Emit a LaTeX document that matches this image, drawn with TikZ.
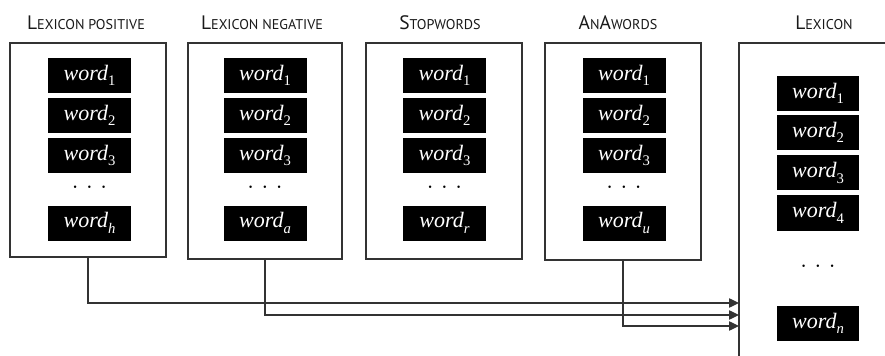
\documentclass[tikz,border=0pt]{standalone}
\usepackage{fontspec}
\setsansfont{PT Sans}
\newfontfamily\wordfont{Liberation Serif}
\usetikzlibrary{arrows.meta}
\newcommand{\BLt}[1]{{\fontsize{14.6}{15}\selectfont #1}}
\newcommand{\SLt}[1]{{\fontsize{10.6}{12}\selectfont #1}}
\newcommand{\wrd}[1]{{\wordfont\itshape word}\raisebox{-0.25em}{\wordfont\fontsize{11}{12}\selectfont #1}}
\newcommand{\wrdi}[1]{{\wordfont\itshape word}\raisebox{-0.25em}{\wordfont\itshape\fontsize{11}{12}\selectfont #1}}
\begin{document}
\begin{tikzpicture}[x=0.75pt,y=-0.75pt,
  frame/.style={draw=black!80,line width=1pt},
  setbox/.style={frame,minimum width=117pt,minimum height=162pt,inner sep=0pt},
  wordbox/.style={fill=black,text=white,minimum width=62.25pt,minimum height=26.25pt,inner sep=0pt,font=\fontsize{16.5}{18}\selectfont},
  title/.style={font=\sffamily,inner sep=0pt,text=black!90},
  dots/.style={inner sep=0pt,font=\fontsize{23}{23}\selectfont},
  conn/.style={draw=black!80,line width=1pt,-{Triangle[length=7.5pt,width=7pt]}}]
\useasboundingbox (0,0) rectangle (885,356);
% titles
\node[title] (t1) at (86,23) {\BLt{L}\SLt{EXICON POSITIVE}};
\node[title] (t2) at (262,23) {\BLt{L}\SLt{EXICON NEGATIVE}};
\node[title] (t3) at (440,23) {\BLt{S}\SLt{TOPWORDS}};
\node[title] (t4) at (618,23) {\BLt{A}\SLt{N}\BLt{A}\SLt{WORDS}};
\node[title] (t5) at (824,23) {\BLt{L}\SLt{EXICON}};
% set boxes
\node[setbox,minimum height=160.5pt] (b1) at (88,150) {};
\node[setbox,minimum width=115.5pt] (b2) at (265,151) {};
\node[setbox] (b3) at (444,151) {};
\node[setbox,minimum height=162.75pt] (b4) at (623,151.5) {};
% words in the four sets
\foreach \cx/\b/\s in {89.5/1/h,265/2/a,444.5/3/r,624/4/u}{
  \node[wordbox] (w\b-1) at (\cx,75.5) {\wrd{1}};
  \node[wordbox] (w\b-2) at (\cx,115.5) {\wrd{2}};
  \node[wordbox] (w\b-3) at (\cx,155.5) {\wrd{3}};
  \node[dots] (d\b) at (\cx,187) {.\hspace{5pt}.\hspace{5pt}.};
  \node[wordbox] (w\b-n) at (\cx,223) {\wrdi{\s}};
}
% lexicon box (open to right and bottom)
\coordinate (lexTR) at (890,43);
\coordinate (lexTL) at (739,43);
\coordinate (lexBL) at (739,360);
\draw[frame] (lexTR) -- (lexTL) -- (lexBL);
\node[wordbox,minimum width=61.5pt] (l1) at (818,93.5) {\wrd{1}};
\node[wordbox,minimum width=61.5pt] (l2) at (818,132.5) {\wrd{2}};
\node[wordbox,minimum width=61.5pt] (l3) at (818,173) {\wrd{3}};
\node[wordbox,minimum width=61.5pt] (l4) at (818,213) {\wrd{4}};
\node[dots] (ld) at (818,266) {.\hspace{5pt}.\hspace{5pt}.};
\node[wordbox,minimum width=61.5pt] (ln) at (818,323.5) {\wrdi{n}};
% connectors
\coordinate (in1) at (739,303);
\coordinate (in2) at (739,315);
\coordinate (in3) at (739,326);
\draw[conn] (b1.south) |- (in1);
\draw[conn] (b2.south) |- (in2);
\draw[conn] (b4.south) |- (in3);
\end{tikzpicture}
\end{document}
